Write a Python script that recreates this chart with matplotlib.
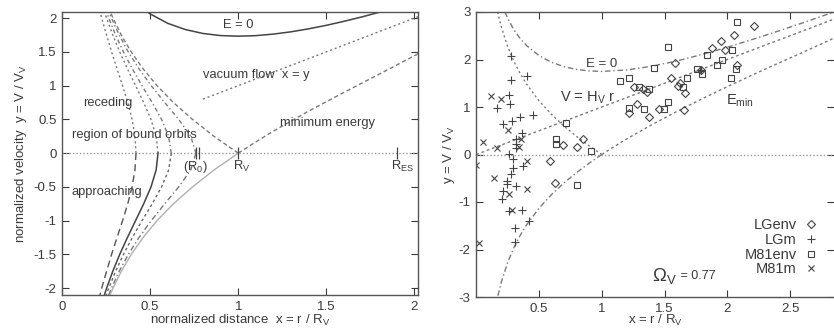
import matplotlib
matplotlib.use("Agg")
import matplotlib.pyplot as plt

plt.rcParams['font.family'] = ['Liberation Sans', 'DejaVu Sans']
plt.rcParams['mathtext.fontset'] = 'custom'
plt.rcParams['mathtext.rm'] = 'Liberation Sans'
plt.rcParams['mathtext.it'] = 'Liberation Sans'
plt.rcParams['axes.unicode_minus'] = False

INK = '#3a3a3a'
GREY = '#7a7a7a'

# ---- left panel: phase portrait ----
levels = [0.0, 0.25, 0.5, 0.75, 1.0, 1.25, 1.5, 1.75, 2.0, 2.1]
orbit_a = [0.42, 0.414, 0.3975, 0.373, 0.3437, 0.3123, 0.2813, 0.2528, 0.225, 0.215]
orbit_b = [0.545, 0.534, 0.505, 0.4635, 0.4173, 0.371, 0.3273, 0.288, 0.253, 0.2404]
orbit_c = [0.62, 0.605, 0.565, 0.5115, 0.454, 0.399, 0.3485, 0.304, 0.2653, 0.2513]
orbit_d = [0.76, 0.7305, 0.662, 0.5827, 0.506, 0.4366, 0.376, 0.3243, 0.2805, 0.265]
separatrix = [1.0, 0.862, 0.7405, 0.632, 0.539, 0.4598, 0.3925, 0.3362, 0.2892, 0.2727]

emin_x = [1.0, 1.1, 1.2, 1.4, 1.6, 1.8, 2.02]
emin_y = [0.0, 0.167, 0.327, 0.623, 0.90, 1.17, 1.47]

e0_x = [0.48, 0.5, 0.6, 0.7, 0.8, 0.9, 1.0, 1.1, 1.2, 1.3, 1.4, 1.5, 1.6, 1.7, 1.8, 1.85]
e0_y = [2.097, 2.062, 1.922, 1.830, 1.772, 1.741, 1.732, 1.740, 1.763, 1.797,
        1.841, 1.893, 1.952, 2.016, 2.086, 2.122]

vacuum_x = [0.8, 2.02]
vacuum_y = [0.8, 2.02]

radius_marks = [0.763, 0.777, 1.0, 1.9]

# ---- right panel: observed galaxies and model curves ----
lgenv_x = [2.213, 2.053, 1.95, 1.88, 1.98, 2.08, 1.79, 1.583, 1.549, 1.62, 1.605, 1.663,
           1.657, 1.257, 1.33, 1.358, 1.283, 1.219, 1.378, 1.453, 0.848, 0.80, 0.693,
           0.587, 0.627]
lgenv_y = [2.71, 2.52, 2.39, 2.24, 2.20, 1.88, 1.78, 1.93, 1.62, 1.50, 1.44, 1.29,
           0.94, 1.43, 1.37, 1.31, 1.06, 0.87, 0.80, 0.96, 0.33, 0.15, 0.20,
           -0.14, -0.59]

lgm_x = [0.274, 0.40, 0.277, 0.26, 0.268, 0.162, 0.454, 0.348, 0.287, 0.215, 0.362,
         0.314, 0.32, 0.313, 0.263, 0.29, 0.372, 0.295, 0.274, 0.242, 0.247, 0.316,
         0.215, 0.202, 0.26, 0.362, 0.422, 0.308, 0.308, 1.79]
lgm_y = [2.07, 1.65, 1.57, 1.25, 1.06, 0.97, 0.83, 0.78, 0.70, 0.64, 0.46,
         0.32, 0.22, 0.13, 0.01, -0.10, -0.24, -0.29, -0.41, -0.55, -0.62, -0.66,
         -0.76, -0.94, -1.18, -1.17, -1.39, -1.55, -1.84, 1.78]

m81env_x = [2.075, 2.035, 1.84, 1.955, 1.915, 2.07, 1.76, 1.80, 1.68, 2.03, 1.65, 1.53,
            1.416, 1.219, 1.145, 1.30, 1.378, 1.219, 1.336, 1.496, 1.525, 0.715, 0.635,
            0.635, 0.911, 0.80]
m81env_y = [2.78, 2.20, 2.09, 2.00, 1.88, 1.80, 1.81, 1.69, 1.62, 1.62, 1.42, 2.26,
            1.815, 1.62, 1.55, 1.43, 1.37, 0.97, 0.96, 0.96, 1.11, 0.66, 0.32,
            0.22, 0.07, -0.64]

m81m_x = [0.114, 0.194, 0.255, 0.05, 0.162, 0.36, 0.34, 0.40, 0.0, 0.141, 0.263,
          0.406, 0.287, 0.02]
m81m_y = [1.24, 1.16, 0.52, 0.27, 0.13, 0.33, 0.15, -0.13, -0.23, -0.50, -0.83,
          -0.73, -1.17, -1.87]

r_e0_x = [0.228, 0.25, 0.3, 0.35, 0.4, 0.5, 0.6, 0.7, 0.8, 0.9, 1.0, 1.2, 1.4, 1.6,
          1.8, 2.0, 2.2, 2.4, 2.6, 2.85]
r_e0_y = [3.0, 2.868, 2.625, 2.44, 2.294, 2.082, 1.941, 1.848, 1.790, 1.759, 1.749,
          1.780, 1.859, 1.971, 2.107, 2.258, 2.422, 2.593, 2.771, 3.0]

r_emin_out_x = [1.0, 1.1, 1.2, 1.4, 1.6, 1.8, 2.0, 2.2, 2.4, 2.6, 2.85]
r_emin_out_y = [0.0, 0.17, 0.33, 0.629, 0.909, 1.174, 1.428, 1.675, 1.914, 2.149, 2.45]

r_emin_in_x = [1.0, 0.95, 0.9, 0.8, 0.7, 0.6, 0.5, 0.4, 0.35, 0.3, 0.25, 0.2, 0.17]
r_emin_in_y = [0.0, 0.09, 0.182, 0.378, 0.595, 0.841, 1.129, 1.484, 1.701, 1.958,
               2.272, 2.68, 2.995]

hubble_x = [0.0, 2.85]
hubble_y = [0.0, 2.85]


def style_axes(ax):
    ax.tick_params(direction='in', top=True, right=True, length=5, width=0.8,
                   labelsize=9.5, colors=INK, pad=4)
    for s in ax.spines.values():
        s.set_color('#555555')
        s.set_linewidth(1.0)


fig = plt.figure(figsize=(8.34, 3.33), dpi=100)

# ---------------- left ----------------
ax = fig.add_axes([62 / 834, 38 / 333, 356 / 834, 283 / 333])
ax.set_xlim(0, 2.02)
ax.set_ylim(-2.1, 2.09)
ax.set_xticks([0, 0.5, 1, 1.5, 2])
ax.set_xticklabels(['0', '0.5', '1', '1.5', '2'])
ax.set_yticks([-2, -1.5, -1, -0.5, 0, 0.5, 1, 1.5, 2])
ax.set_yticklabels(['-2', '-1.5', '-1', '-0.5', '0', '0.5', '1', '1.5', '2'])
style_axes(ax)

ax.plot([0, 2.02], [0, 0], color='#999999', lw=1.0, ls=(0, (1, 1.5)))

neg = [-v for v in levels]
# receding halves (upper)
for xs in (orbit_a, orbit_b):
    ax.plot(xs, levels, color=GREY, lw=1.0, ls=(0, (1.5, 2)))
for xs in (orbit_c, orbit_d):
    ax.plot(xs, levels, color=GREY, lw=1.0, ls=(0, (3, 2, 1, 2)))
ax.plot(separatrix, levels, color=GREY, lw=1.0, ls=(0, (3, 2)))
# approaching halves (lower)
ax.plot(orbit_a, neg, color='#555555', lw=1.0, ls=(0, (5, 3)))
ax.plot(orbit_b, neg, color='#444444', lw=1.1, ls='-')
ax.plot(orbit_c, neg, color='#666666', lw=1.0, ls=(0, (2, 2)))
ax.plot(orbit_d, neg, color='#777777', lw=1.0, ls=(0, (4, 2, 1, 2)))
ax.plot(separatrix, neg, color='#b0b0b0', lw=1.0, ls='-')

ax.plot(emin_x, emin_y, color=GREY, lw=1.0, ls=(0, (3, 2)))
ax.plot(e0_x, e0_y, color='#444444', lw=1.1, ls='-')
ax.plot(vacuum_x, vacuum_y, color=GREY, lw=1.0, ls=(0, (1.5, 2)))
ax.plot(radius_marks, [0] * len(radius_marks), ls='none', marker='|', ms=8,
        mew=0.9, color='#444444')

fs = 9.3
ax.text(1.0, 1.9, 'E = 0', ha='center', va='center', fontsize=fs, color=INK)
ax.text(0.8, 1.15, 'vacuum flow  x = y', ha='left', va='center', fontsize=fs, color=INK)
ax.text(0.12, 0.75, 'receding', ha='left', va='center', fontsize=fs, color=INK)
ax.text(0.055, 0.27, 'region of bound orbits', ha='left', va='center', fontsize=fs,
        color=INK)
ax.text(1.235, 0.44, 'minimum energy', ha='left', va='center', fontsize=fs, color=INK)
ax.text(0.055, -0.58, 'approaching', ha='left', va='center', fontsize=fs, color=INK)
ax.text(0.755, -0.2, r'(R$_0$)', ha='center', va='center', fontsize=fs, color=INK)
ax.text(1.02, -0.2, r'R$_{\rm V}$', ha='center', va='center', fontsize=fs, color=INK)
ax.text(1.93, -0.2, r'R$_{\rm ES}$', ha='center', va='center', fontsize=fs, color=INK)

ax.set_xlabel(r'normalized distance  x = r / R$_{\rm V}$', fontsize=9.5, color=INK,
              labelpad=0)
ax.set_ylabel(r'normalized velocity  y = V / V$_{\rm V}$', fontsize=9.5, color=INK,
              labelpad=3)

# ---------------- right ----------------
bx = fig.add_axes([476.3 / 834, 36 / 333, (834 - 476.3) / 834, 285 / 333])
bx.set_xlim(0, 2.85)
bx.set_ylim(-3, 3)
bx.set_xticks([0.5, 1, 1.5, 2, 2.5])
bx.set_xticklabels(['0.5', '1', '1.5', '2', '2.5'])
bx.set_yticks([-3, -2, -1, 0, 1, 2, 3])
bx.set_yticklabels(['-3', '-2', '-1', '0', '1', '2', '3'])
style_axes(bx)
bx.spines['right'].set_visible(False)

bx.plot([0, 2.85], [0, 0], color='#999999', lw=1.0, ls=(0, (1, 1.5)))
bx.plot(r_e0_x, r_e0_y, color=GREY, lw=1.0, ls=(0, (4, 2, 1, 2)))
bx.plot(hubble_x, hubble_y, color=GREY, lw=1.0, ls=(0, (2, 2)))
bx.plot(r_emin_out_x, r_emin_out_y, color=GREY, lw=1.0, ls=(0, (2, 2)))
bx.plot(r_emin_in_x, r_emin_in_y, color=GREY, lw=1.0, ls=(0, (1.5, 2)))
bx.plot(r_emin_in_x, [-v for v in r_emin_in_y], color=GREY, lw=1.0,
        ls=(0, (4, 2, 1, 2)))

mk = dict(ls='none', color='#444444', mfc='none', mew=0.8)
h1, = bx.plot(lgenv_x, lgenv_y, marker='D', ms=3.6, label='LGenv', **mk)
h2, = bx.plot(lgm_x, lgm_y, marker='+', ms=5.5, label='LGm', **mk)
h3, = bx.plot(m81env_x, m81env_y, marker='s', ms=4.6, label='M81env', **mk)
h4, = bx.plot(m81m_x, m81m_y, marker='x', ms=4.6, label='M81m', **mk)
bx.legend(handles=[h1, h2, h3, h4], loc='upper right',
          bbox_to_anchor=(826 / 834, (333 - 211) / 333),
          bbox_transform=fig.transFigure, markerfirst=False, frameon=False,
          handlelength=1.0, handletextpad=0.5, labelspacing=0.05, fontsize=10.5,
          borderpad=0, labelcolor=INK)

bx.text(1.0, 1.9, 'E = 0', ha='center', va='center', fontsize=9.5, color=INK)
bx.text(0.89, 1.2, r'V = H$_{\rm V}$ r', ha='center', va='center', fontsize=10.5,
        color=INK)
bx.text(2.1, 1.14, r'E$_{\rm min}$', ha='center', va='center', fontsize=10.5, color=INK)
bx.text(1.6, -2.55, r'$\Omega_{\rm V}$', ha='right', va='center', fontsize=13.5,
        color=INK)
bx.text(1.6, -2.55, ' = 0.77', ha='left', va='center', fontsize=9, color=INK)

bx.set_xlabel(r'x = r / R$_{\rm V}$', fontsize=9.5, color=INK, labelpad=-1)
bx.set_ylabel(r'y = V / V$_{\rm V}$', fontsize=9.5, color=INK, labelpad=1)

fig.savefig('out.png', dpi=100)
